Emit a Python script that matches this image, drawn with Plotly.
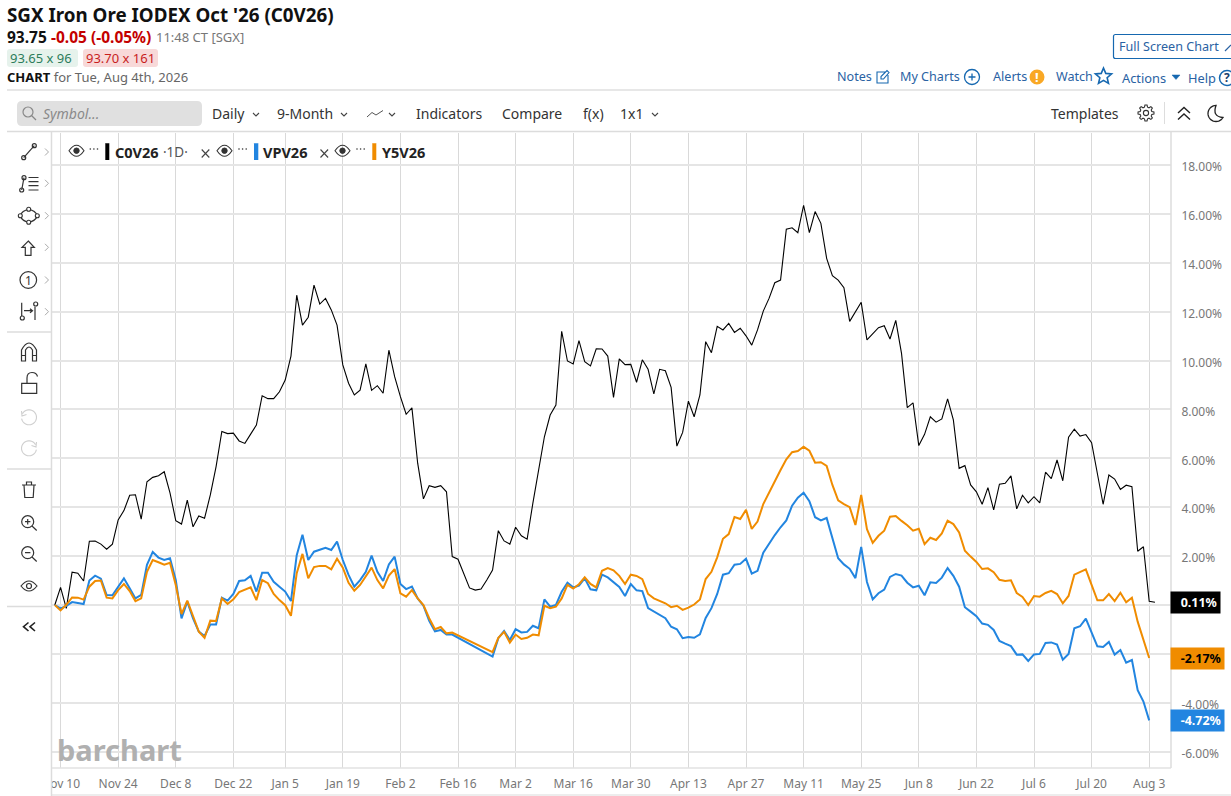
import re
import math
import pandas as pd
import plotly.graph_objects as go

# ---------- data (percent change since first session) ----------
C0V26 = [0, 0.72, -0.14, 1.34, 1.30, 0.98, 2.61, 2.62, 2.49, 2.28,
         2.49, 3.48, 3.86, 4.49, 4.51, 3.51, 5.04, 5.22, 5.29, 5.45,
         4.59, 3.45, 3.31, 4.29, 3.20, 3.64, 3.55, 4.50, 5.66, 7.10,
         7.01, 7.03, 6.71, 6.61, 6.99, 7.36, 8.56, 8.44, 8.44, 8.72,
         9.20, 10.18, 12.67, 11.45, 11.77, 13.08, 12.31, 12.54, 12.07, 11.45,
         9.82, 9.07, 8.59, 8.79, 9.86, 8.78, 8.97, 8.66, 10.42, 9.34,
         8.52, 7.80, 8.06, 5.80, 4.34, 4.88, 4.81, 4.88, 4.63, 1.98,
         1.87, 1.30, 0.70, 0.61, 0.65, 1.02, 1.43, 3.04, 2.62, 2.49,
         3.18, 2.83, 2.69, 4.17, 5.52, 6.88, 7.77, 8.18, 11.19, 9.98,
         9.86, 10.81, 9.95, 9.78, 10.48, 10.47, 10.18, 8.49, 10.07, 9.83,
         9.84, 9.11, 10.03, 9.64, 8.63, 9.64, 9.58, 8.90, 6.50, 7.06,
         8.34, 7.70, 8.59, 10.77, 10.32, 11.40, 11.25, 11.52, 11.15, 11.32,
         11.01, 10.63, 11.25, 12.02, 12.54, 13.18, 13.29, 15.37, 15.43, 15.23,
         16.35, 15.23, 16.09, 15.61, 14.18, 13.47, 13.29, 12.98, 11.60, 12.00,
         12.38, 10.84, 11.07, 11.34, 11.42, 10.88, 11.64, 10.29, 8.07, 8.27,
         6.52, 6.98, 7.70, 7.48, 7.61, 8.43, 7.57, 5.59, 5.70, 4.91,
         4.63, 4.12, 4.80, 3.89, 4.94, 4.98, 5.28, 3.93, 4.49, 4.18,
         4.43, 4.18, 5.43, 5.17, 5.93, 5.08, 6.86, 7.19, 6.91, 6.97,
         6.64, 5.39, 4.12, 5.32, 5.15, 4.73, 4.90, 4.84, 2.20, 2.38,
         0.15, 0.11]

VPV26 = [0, -0.14, -0.04, 0.12, 0.08, 0.04, 1.00, 1.20, 1.08, 0.41,
         0.40, 0.75, 1.09, 0.68, 0.27, 0.41, 1.64, 2.17, 1.94, 1.84,
         1.91, 1.02, -0.55, 0.14, -0.55, -1.09, -1.27, -0.80, -0.80, 0.30,
         0.18, 0.45, 0.98, 1.01, 1.19, 0.55, 1.32, 1.32, 0.95, 0.75,
         0.55, 0.16, 2.04, 2.87, 1.84, 2.18, 2.25, 2.34, 2.25, 2.59,
         1.84, 1.23, 0.75, 1.02, 1.36, 2.02, 1.36, 0.98, 1.66, 1.98,
         0.86, 0.65, 0.75, 0.27, -0.03, -0.65, -1.08, -1.02, -1.21, -1.21,
         None, None, None, None, None, None, -2.11, -1.36, -1.06, -1.43,
         -0.99, -1.12, -1.10, -0.85, -0.95, 0.23, -0.07, 0, 0.54, 0.91,
         0.72, 0.79, 1.09, 0.64, 0.60, 1.24, 1.13, 0.94, 0.74, 0.37,
         0.86, 0.60, 0.57, -0.13, -0.27, -0.41, -0.54, -0.89, -0.99, -1.36,
         -1.31, -1.34, -1.20, -0.53, -0.13, 0.45, 1.24, 1.30, 1.65, 1.68,
         1.89, 1.28, 1.40, 2.14, 2.51, 2.86, 3.18, 3.46, 4.06, 4.39,
         4.59, 4.25, 3.59, 3.46, 3.56, 2.70, 1.91, 1.66, 1.48, 1.10,
         2.38, 0.94, 0.23, 0.48, 0.63, 1.15, 1.27, 1.20, 0.91, 0.72,
         0.79, 0.40, 0.93, 0.90, 1.12, 1.51, 1.19, 0.75, -0.09, -0.27,
         -0.46, -0.76, -0.81, -1.02, -1.47, -1.58, -1.68, -2.03, -2.02, -2.29,
         -2.02, -2.00, -1.55, -1.53, -1.62, -2.24, -2.00, -0.95, -0.87, -0.56,
         -1.09, -1.69, -1.72, -1.51, -2.03, -1.84, -2.36, -2.25, -3.48, -3.95,
         -4.72]

Y5V26 = [0, -0.22, 0.01, 0.31, 0.30, 0.22, 0.75, 0.98, 1.00, 0.30,
         0.27, 0.61, 0.86, 0.57, 0.16, 0.27, 1.36, 1.84, 1.75, 1.65,
         1.73, 0.82, -0.37, 0.18, -0.45, -1.09, -1.34, -0.64, -0.65, 0.27,
         0.04, 0.23, 0.53, 0.64, 0.72, 0.20, 1.02, 0.89, 0.45, 0.20,
         -0.01, -0.44, 1.30, 2.09, 1.09, 1.55, 1.60, 1.60, 1.46, 1.89,
         1.53, 0.91, 0.58, 0.82, 1.16, 1.53, 1.02, 0.68, 1.20, 1.47,
         0.48, 0.34, 0.61, 0.27, 0, -0.54, -0.99, -0.90, -1.16, -1.13,
         None, None, None, None, None, None, -1.93, -1.34, -1.10, -1.54,
         -1.21, -1.39, -1.34, -1.21, -1.24, -0.03, -0.13, -0.07, 0.27, 0.82,
         0.67, 0.85, 1.13, 0.86, 0.72, 1.40, 1.51, 1.42, 1.19, 0.86,
         1.24, 1.19, 1.06, 0.45, 0.27, 0.18, 0.07, -0.09, -0.03, -0.20,
         -0.11, 0.02, 0.23, 1.06, 1.36, 1.95, 2.71, 2.90, 3.60, 3.52,
         3.89, 3.11, 3.41, 4.13, 4.61, 5.08, 5.52, 5.96, 6.25, 6.30,
         6.47, 6.31, 5.82, 5.84, 5.69, 4.91, 4.28, 4.13, 4.00, 3.27,
         4.50, 3.10, 2.54, 2.83, 3.04, 3.61, 3.64, 3.44, 3.26, 3.04,
         3.12, 2.49, 2.75, 2.66, 2.93, 3.45, 3.31, 2.97, 2.22, 1.98,
         1.76, 1.47, 1.50, 1.34, 1.03, 0.98, 1.01, 0.49, 0.33, 0,
         0.37, 0.34, 0.49, 0.58, 0.45, 0.07, 0.37, 1.24, 1.36, 1.46,
         0.82, 0.19, 0.19, 0.45, 0.16, 0.50, 0.11, 0.30, -0.68, -1.43,
         -2.17]

assert len(C0V26) == 192, len(C0V26)
assert len(VPV26) == 191, len(VPV26)
assert len(Y5V26) == 191, len(Y5V26)

tick_dates = ["2025-11-10", "2025-11-24", "2025-12-08", "2025-12-22", "2026-01-05",
              "2026-01-19", "2026-02-02", "2026-02-16", "2026-03-02", "2026-03-16",
              "2026-03-30", "2026-04-13", "2026-04-27", "2026-05-11", "2026-05-25",
              "2026-06-08", "2026-06-22", "2026-07-06", "2026-07-20", "2026-08-03"]
tick_labels = ["Nov 10", "Nov 24", "Dec 8", "Dec 22", "Jan 5", "Jan 19", "Feb 2", "Feb 16",
               "Mar 2", "Mar 16", "Mar 30", "Apr 13", "Apr 27", "May 11", "May 25",
               "Jun 8", "Jun 22", "Jul 6", "Jul 20", "Aug 3"]
y_ticks = [18, 16, 14, 12, 10, 8, 6, 4, 2, 0, -2, -4, -6]
y_labels = ["18.00%", "16.00%", "14.00%", "12.00%", "10.00%", "8.00%", "6.00%", "4.00%",
            "2.00%", "", "", "-4.00%", "-6.00%"]

sessions = [d.strftime("%Y-%m-%d") for d in pd.bdate_range("2025-11-07", "2026-08-04")
            if d.strftime("%Y-%m-%d") != "2026-01-01"]
assert len(sessions) == 192, len(sessions)

# ---------- page geometry ----------
W, H = 1231, 796
L, R, T, B = 52, 1171, 133, 768
FONT = "Noto Sans"
BLACK, BLUE, ORANGE = "#000000", "#2285e0", "#f08c00"
LINK = "#2a62a3"
ICON = "#333333"


def PX(x):
    return (x - L) / (R - L)


def PY(y):
    return 1 - (y - T) / (B - T)


shapes = []
annos = []


def path(d, color=ICON, width=1.2, fill=None):
    nums = iter(re.findall(r"-?\d+\.?\d*|[A-Za-z]", d))
    out = []
    is_x = True
    for tok in nums:
        if tok.isalpha():
            out.append(tok)
            is_x = True
        else:
            v = float(tok)
            out.append(f"{PX(v):.6f}" if is_x else f"{PY(v):.6f}")
            is_x = not is_x
    s = ""
    i = 0
    while i < len(out):
        if out[i].isalpha():
            s += out[i] + " "
            i += 1
        else:
            s += out[i] + "," + out[i + 1] + " "
            i += 2
    shapes.append(dict(type="path", path=s, xref="paper", yref="paper",
                       line=dict(color=color, width=width),
                       fillcolor=fill if fill else "rgba(0,0,0,0)"))


def hline(x0, x1, y, color="#dcdcdc", width=1.5):
    path(f"M {x0},{y} L {x1},{y}", color, width)


def vline(x, y0, y1, color="#dcdcdc", width=1.5):
    path(f"M {x},{y0} L {x},{y1}", color, width)


def rect(x0, y0, x1, y1, fill, color=None, width=0, r=3):
    d = (f"M {x0 + r},{y0} L {x1 - r},{y0} Q {x1},{y0} {x1},{y0 + r} L {x1},{y1 - r} "
         f"Q {x1},{y1} {x1 - r},{y1} L {x0 + r},{y1} Q {x0},{y1} {x0},{y1 - r} "
         f"L {x0},{y0 + r} Q {x0},{y0} {x0 + r},{y0} Z")
    path(d, color if color else "rgba(0,0,0,0)", width, fill)


def circle(cx, cy, r, color=ICON, width=1.2, fill=None):
    shapes.append(dict(type="circle", xref="paper", yref="paper",
                       x0=PX(cx - r), x1=PX(cx + r), y0=PY(cy + r), y1=PY(cy - r),
                       line=dict(color=color, width=width),
                       fillcolor=fill if fill else "rgba(0,0,0,0)"))


def arc(cx, cy, r, a0, a1, n=24):
    pts = []
    for k in range(n + 1):
        a = math.radians(a0 + (a1 - a0) * k / n)
        pts.append(f"{cx + r * math.cos(a):.2f},{cy + r * math.sin(a):.2f}")
    return "M " + pts[0] + " " + " ".join("L " + p for p in pts[1:])


def chevron(x, y, s=3, color="#444444", width=1.1):
    path(f"M {x - s},{y - s / 2} L {x},{y + s / 2} L {x + s},{y - s / 2}", color, width)


def rchev(x, y, color="#aaaaaa"):
    path(f"M {x - 1.5},{y - 3.5} L {x + 2},{y} L {x - 1.5},{y + 3.5}", color, 1)


def text(x, y, s, size=13, color="#333333", anchor="left"):
    shift = -1 if anchor == "left" else 0
    annos.append(dict(xref="paper", yref="paper", x=PX(x + shift), y=PY(y - 0.5), text=s, showarrow=False,
                      xanchor=anchor, yanchor="middle", align="left", borderpad=0,
                      font=dict(family=FONT, size=size, color=color)))


def eye(cx, cy, filled=True, w=7.5, h=6.5):
    path(f"M {cx - w},{cy} Q {cx},{cy - 2 * h + 2} {cx + w},{cy} Q {cx},{cy + 2 * h - 2} {cx - w},{cy} Z",
         ICON, 1.1)
    circle(cx, cy, 2.7, ICON, 1, ICON if filled else None)


def star(cx, cy, r, color, width=1.6):
    pts = []
    for k in range(10):
        a = math.radians(-90 + 36 * k)
        rr = r if k % 2 == 0 else r * 0.45
        pts.append(f"{cx + rr * math.cos(a):.2f},{cy + rr * math.sin(a):.2f}")
    path("M " + pts[0] + " " + " ".join("L " + p for p in pts[1:]) + " Z", color, width)


def gear(cx, cy):
    pts = []
    for k in range(48):
        a = 360 * k / 48
        rr = 8 if (k % 6) in (0, 1, 5) else 6
        pts.append(f"{cx + rr * math.cos(math.radians(a)):.2f},{cy + rr * math.sin(math.radians(a)):.2f}")
    path("M " + pts[0] + " " + " ".join("L " + p for p in pts[1:]) + " Z", ICON, 1.1)
    circle(cx, cy, 2.6, ICON, 1.1)


# ---------- page chrome ----------
rect(20, 769, 51.5, 795, "#ffffff", r=0)
vline(51.5, 132, 796)
hline(52, 1171, 768, "#e2e2e2", 1.5)
vline(1171, 132, 768, "#dcdcdc", 1.5)
hline(52, 1231, 795, "#dcdcdc", 1.2)
hline(7, 1231, 90, "#cfcfcf", 1.2)
hline(7, 1231, 131.5, "#dcdcdc", 1.5)
hline(7, 52, 332)
hline(7, 52, 469)
hline(7, 52, 606.5)

# header
text(7, 15.5, "<b>SGX Iron Ore IODEX Oct '26 (C0V26)</b>", 18.8, "#111111")
text(7, 37, "<b>93.75</b>", 15.5, "#111111")
text(51, 37, "<b>-0.05 (-0.05%)</b>", 15.5, "#c40000")
text(156, 38, "11:48 CT [SGX]", 13, "#777777")
rect(7, 49, 78, 67, "#e6f2ec")
text(10, 58.5, "93.65 x 96", 13, "#2c7d5b")
rect(83, 49, 158, 67, "#f8d9d9")
text(86, 58.5, "93.70 x 161", 13, "#c81e1e")
text(7, 77.5, "<b>CHART</b> <span style='color:#666666'>for Tue, Aug 4th, 2026</span>", 13, "#111111")

# top-right links
rect(1113.5, 34.5, 1240, 58.5, "#ffffff", "#1668b0", 1.2, r=2)
text(1119, 47, "Full Screen Chart", 12.6, LINK)
path("M 1225,51 L 1231,45", LINK, 1.2)
text(837, 77, "Notes", 12.6, LINK)
path("M 886,72 L 877,72 L 877,83 L 888,83 L 888,75 M 881,79 L 881,76.5 L 887,70.5 L 889,72.5 L 883.5,79 Z", "#1668b0", 1.1)
text(900, 77, "My Charts", 12.6, LINK)
circle(972, 77, 7.5, "#1668b0", 1.3)
path("M 968.5,77 L 975.5,77 M 972,73.5 L 972,80.5", "#1668b0", 1.3)
text(993, 77.5, "Alerts", 12.6, LINK)
circle(1037, 77, 7.5, ORANGE, 0, "#f9a825")
text(1037, 77.5, "<b>!</b>", 13, "#ffffff", "center")
text(1056, 77, "Watch", 12.6, LINK)
star(1103.5, 76.5, 8.5, "#1668b0")
text(1122, 78, "Actions", 12.8, LINK)
path("M 1172,75 L 1180,75 L 1176,79.5 Z", "#1668b0", 0.5, "#1668b0")
text(1188, 78.5, "Help", 12.8, LINK)
circle(1227, 78, 7.5, "#1668b0", 1.5)
text(1227, 78.5, "<b>?</b>", 12, "#1a3f6e", "center")

# toolbar
rect(17, 101, 202, 126, "#e0e0e0", r=5)
circle(28, 112, 5, "#888888", 1.2)
path("M 31.5,115.5 L 36,120", "#888888", 1.2)
text(43, 114, "<i>Symbol...</i>", 14, "#8a8a8a")
text(212, 114, "Daily", 14)
chevron(256, 114.5)
text(277, 114, "9-Month", 14)
chevron(344, 114.5)
path("M 367,117 L 372,112.5 L 376,115 L 383,110.5", "#555555", 1)
chevron(392, 114.5)
text(416, 114, "Indicators", 14)
text(502, 114, "Compare", 14)
text(583, 114, "f(x)", 14)
text(620, 114, "1x1", 14)
chevron(655, 114.5)
text(1051, 114, "Templates", 14)
gear(1146, 113)
vline(1164.5, 102, 124, "#dddddd", 1)
path("M 1178,113 L 1184,107.5 L 1190,113 M 1178,119.5 L 1184,114 L 1190,119.5", "#222222", 1.4)
path(arc(1216, 113.5, 8, -90, -330) + " Q 1212,116.5 1216,105.5 Z", "#222222", 1.3)

# left tool column
path("M 23.7,157.7 L 34.3,145.7")
circle(23.7, 157.7, 2)
circle(34.3, 145.7, 2)
path("M 21.7,190 L 24,177.7 M 28.5,177.5 L 38.5,177.5 M 28.5,181.7 L 38.5,181.7 M 28.5,185.7 L 38.5,185.7 M 28.5,190 L 38.5,190")
circle(21.7, 190, 2)
circle(24, 177.7, 2)
path("M 28.7,209.3 Q 35.5,210.5 37.3,215.7 Q 35.5,221 28.7,222.3 Q 22,221 20.3,215.7 Q 22,210.5 28.7,209.3 Z")
for c in [(28.7, 209.3), (37.3, 215.7), (28.7, 222.3), (20.3, 215.7)]:
    circle(c[0], c[1], 2, ICON, 1.1, "#ffffff")
path("M 28.3,241 L 34.3,247.3 L 31,247.3 L 31,255.3 L 25.3,255.3 L 25.3,247.3 L 22,247.3 Z")
circle(28.3, 280, 8.3)
text(28.3, 280.5, "1", 12, ICON, "center")
path("M 21.7,302.7 L 21.7,316 M 35,306.7 L 35,320 M 24,310.7 L 32.5,310.7 M 30,308.7 L 32.5,310.7 L 30,312.7")
circle(22.3, 318, 2)
circle(35.7, 304, 2)
for yy in [152, 183.3, 215.7, 247.3, 280, 311.7]:
    rchev(46.5, yy)
path("M 21.5,361 L 21.5,350 Q 29,336 36.5,350 L 36.5,361 L 32.5,361 L 32.5,350 Q 29,344 25.5,350 L 25.5,361 Z M 21.5,355.5 L 25.5,355.5 M 32.5,355.5 L 36.5,355.5")
path("M 21.7,383.3 L 36.7,383.3 L 36.7,393.3 L 21.7,393.3 Z M 27,383.3 L 27,378 Q 27,372.5 32,372.5 Q 36.5,372.5 37.5,376.5")
path(arc(29, 417.3, 7.5, -150, 170) + " M 21.5,411 L 22,416 L 26.5,414.5", "#cfcfcf", 1.1)
path(arc(29, 448.3, 7.5, -30, -350) + " M 36.5,442 L 36,447 L 31.5,445.5", "#cfcfcf", 1.1)
path("M 22,485 L 36,485 M 26.5,485 L 26.5,482 L 31.5,482 L 31.5,485 M 24,485 L 24.8,497.5 L 33.2,497.5 L 34,485")
circle(27.7, 521.7, 6)
path("M 32,526 L 36.7,530.5 M 25,521.7 L 30.4,521.7 M 27.7,519 L 27.7,524.4")
circle(27.7, 552.7, 6)
path("M 32,557 L 36.7,561.5 M 25,552.7 L 30.4,552.7")
path("M 21,586 Q 29,576 37,586 Q 29,596 21,586 Z")
circle(29, 586, 2.5)
path("M 28.5,622.5 L 23.5,626.7 L 28.5,631 M 35,622.5 L 30,626.7 L 35,631", "#222222", 1.6)

# legend row
for cx in [76.5, 224.5, 342.5]:
    eye(cx, 150.7)
for x0 in [90.3, 239, 357]:
    for k in range(3):
        circle(x0 + 3.6 * k, 149, 0.8, "#333333", 0, "#333333")
rect(105.3, 143.3, 109.3, 160, BLACK, r=0.1)
rect(254, 143.3, 258.3, 160, BLUE, r=0.1)
rect(372.3, 143.3, 376.3, 160, ORANGE, r=0.1)
text(115.3, 152, "<b>C0V26</b>", 14.5, "#222222")
text(163, 152, "·1D·", 13.5, "#555555")
text(263.3, 152, "<b>VPV26</b>", 14.5, "#222222")
text(382.3, 152, "<b>Y5V26</b>", 14.5, "#222222")
for cx in [205.5, 324.3]:
    path(f"M {cx - 3.8},{149.5} L {cx + 3.8},{157.5} M {cx + 3.8},{149.5} L {cx - 3.8},{157.5}", "#444444", 1.1)

# watermark
text(57, 750, "<b>barchart</b>", 29, "#b0b0b0")

# last-value badges
for series, color, fc, w in [(C0V26, "#000000", "#ffffff", 49),
                             (Y5V26, ORANGE, "#000000", 53),
                             (VPV26, BLUE, "#ffffff", 53)]:
    last = series[-1]
    annos.append(dict(xref="paper", yref="y", x=PX(1169.5), y=last,
                      text=f"&nbsp;&nbsp;<b>{last:.2f}%</b>",
                      showarrow=False, xanchor="left", yanchor="middle", align="center",
                      width=w, height=21, bgcolor=color, borderpad=0,
                      font=dict(family=FONT, size=12.5, color=fc)))

# ---------- figure ----------
fig = go.Figure()
fig.add_trace(go.Scatter(x=sessions, y=C0V26, mode="lines", name="C0V26",
                         line=dict(color=BLACK, width=1.1)))
fig.add_trace(go.Scatter(x=sessions[:len(VPV26)], y=VPV26, mode="lines", name="VPV26",
                         connectgaps=True, line=dict(color=BLUE, width=2)))
fig.add_trace(go.Scatter(x=sessions[:len(Y5V26)], y=Y5V26, mode="lines", name="Y5V26",
                         connectgaps=True, line=dict(color=ORANGE, width=2)))

fig.update_layout(
    width=W, height=H, autosize=False,
    margin=dict(l=L, r=W - R, t=T, b=H - B, pad=0),
    paper_bgcolor="#ffffff", plot_bgcolor="#ffffff",
    showlegend=False, hovermode=False,
    font=dict(family=FONT, size=13, color="#777777"),
    shapes=shapes, annotations=annos,
    xaxis=dict(type="category", categoryorder="array", categoryarray=sessions,
               range=[(L - 54.8) / 5.76, (R - 54.8) / 5.76],
               tickmode="array", tickvals=tick_dates, ticktext=tick_labels, tickangle=0,
               showgrid=True, gridcolor="#d9d9d9", gridwidth=1.4, zeroline=False, showline=False,
               ticks="", ticklabelstandoff=7,
               tickfont=dict(family=FONT, size=12, color="#777777"), automargin=False),
    yaxis=dict(side="right", range=[(605 - B) / 24.45, (605 - T) / 24.45],
               tickmode="array", tickvals=y_ticks, ticktext=y_labels,
               showgrid=True, gridcolor="#e5e5e5", gridwidth=2, zeroline=False, showline=False,
               ticks="outside", ticklen=7, tickcolor="rgba(0,0,0,0)", ticklabelshift=2,
               tickfont=dict(family=FONT, size=12, color="#777777"), automargin=False),
)

fig.write_html("out.html", config=dict(displayModeBar=False),
               post_script="document.body.style.margin='0';document.documentElement.style.overflow='hidden';")
